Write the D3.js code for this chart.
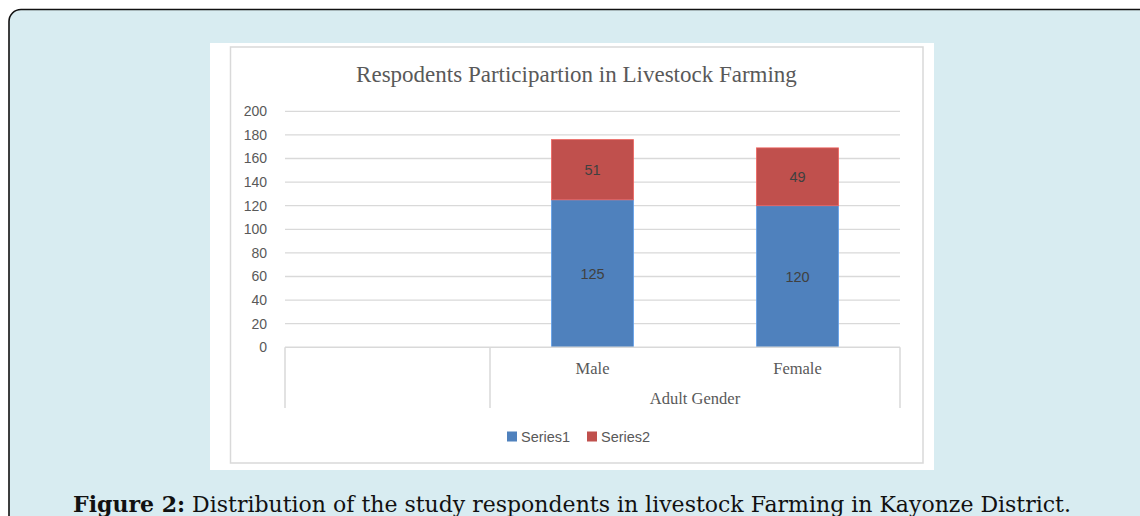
<!DOCTYPE html>
<html>
<head>
<meta charset="utf-8">
<script src="https://cdn.jsdelivr.net/npm/d3@7/dist/d3.min.js"></script>
<style>
  html, body { margin: 0; padding: 0; background: #ffffff; }
  svg { display: block; }
</style>
</head>
<body>
<svg id="fig" width="1140" height="516"></svg>
<script>
// Chart data
const categories = ["", "Male", "Female"];
const categoryGroups = ["", "Adult Gender", "Adult Gender"];
const series1 = [null, 125, 120];
const series2 = [null, 51, 49];
const seriesNames = ["Series1", "Series2"];
const yTicks = [0, 20, 40, 60, 80, 100, 120, 140, 160, 180, 200];
const chartTitle = "Respodents Participartion in Livestock Farming";
const captionBold = "Figure 2:";
const captionText = " Distribution of the study respondents in livestock Farming in Kayonze District.";

const colors = ["#4f81bd", "#c0504d"];
const textGrey = "#595959";
const gridGrey = "#d9d9d9";

const svg = d3.select("#fig");

// Figure panel background with rounded corner
svg.append("rect")
  .attr("x", 9).attr("y", 9.5)
  .attr("width", 1160).attr("height", 540)
  .attr("rx", 12).attr("ry", 12)
  .attr("fill", "#d8ecf1")
  .attr("stroke", "#111").attr("stroke-width", 1.6);

// Chart image area
svg.append("rect")
  .attr("x", 210).attr("y", 43).attr("width", 724).attr("height", 427)
  .attr("fill", "#ffffff");
svg.append("rect")
  .attr("x", 230.5).attr("y", 47).attr("width", 692.5).attr("height", 416)
  .attr("fill", "#ffffff")
  .attr("stroke", gridGrey).attr("stroke-width", 1.5);

// Plot area
const plot = { left: 285, right: 900, top: 111.3, bottom: 347.3 };

const x = d3.scaleBand()
  .domain(categories)
  .range([plot.left, plot.right])
  .paddingInner(0.6)
  .paddingOuter(0.3);

const y = d3.scaleLinear()
  .domain([0, 200])
  .range([plot.bottom, plot.top]);

// Title
svg.append("text")
  .attr("x", 576.5).attr("y", 82)
  .attr("text-anchor", "middle")
  .attr("font-family", "Liberation Serif, serif")
  .attr("font-size", 23)
  .attr("fill", textGrey)
  .text(chartTitle);

// Horizontal gridlines
svg.append("g")
  .selectAll("line")
  .data(yTicks.filter(t => t > 0))
  .join("line")
  .attr("x1", plot.left).attr("x2", plot.right)
  .attr("y1", d => y(d)).attr("y2", d => y(d))
  .attr("stroke", gridGrey).attr("stroke-width", 1.3);

// Y axis labels
const yAxis = d3.axisLeft(y).tickValues(yTicks).tickSize(0).tickPadding(0);
const yG = svg.append("g")
  .attr("transform", `translate(267,0)`)
  .call(yAxis);
yG.select(".domain").remove();
yG.selectAll("text")
  .attr("font-family", "Liberation Sans, Arial, sans-serif")
  .attr("font-size", 14)
  .attr("fill", textGrey);

// Stacked bars
const rows = categories.map((c, i) => ({ cat: c, Series1: series1[i], Series2: series2[i] }));
const stack = d3.stack().keys(seriesNames).value((d, k) => d[k] == null ? 0 : d[k]);
const layers = stack(rows);

const barG = svg.append("g");
layers.forEach((layer, li) => {
  const segs = layer.filter(s => s.data[layer.key] != null);
  barG.selectAll(null)
    .data(segs)
    .join("rect")
    .attr("x", d => x(d.data.cat))
    .attr("width", x.bandwidth())
    .attr("y", d => y(d[1]))
    .attr("height", d => y(d[0]) - y(d[1]))
    .attr("fill", colors[li])
    .attr("stroke", d3.color(colors[li]).brighter(0.6))
    .attr("stroke-width", 0.8);
  barG.selectAll(null)
    .data(segs)
    .join("text")
    .attr("x", d => x(d.data.cat) + x.bandwidth() / 2)
    .attr("y", d => (y(d[0]) + y(d[1])) / 2)
    .attr("dy", "0.35em")
    .attr("text-anchor", "middle")
    .attr("font-family", "Liberation Sans, Arial, sans-serif")
    .attr("font-size", 14.5)
    .attr("fill", "#404040")
    .text(d => d.data[layer.key]);
});

// Multi-level category axis
const axisG = svg.append("g").attr("stroke", gridGrey).attr("stroke-width", 1.5);
const rowBottom = 408;
axisG.append("line")
  .attr("x1", plot.left).attr("x2", plot.right)
  .attr("y1", plot.bottom).attr("y2", plot.bottom);

// Group boundaries
const cellStart = i => plot.left + i * x.step();
const groupEdges = [];
categoryGroups.forEach((g, i) => {
  if (i === 0 || g !== categoryGroups[i - 1]) groupEdges.push(cellStart(i));
});
groupEdges.push(plot.right);
axisG.selectAll(null)
  .data(groupEdges)
  .join("line")
  .attr("x1", d => d).attr("x2", d => d)
  .attr("y1", plot.bottom).attr("y2", rowBottom);

// Category labels
svg.append("g")
  .selectAll("text")
  .data(categories.filter(c => c !== ""))
  .join("text")
  .attr("x", d => x(d) + x.bandwidth() / 2)
  .attr("y", 374)
  .attr("text-anchor", "middle")
  .attr("font-family", "Liberation Serif, serif")
  .attr("font-size", 16.5)
  .attr("fill", textGrey)
  .text(d => d);

// Group labels
const groupNames = Array.from(new Set(categoryGroups)).filter(g => g !== "");
svg.append("g")
  .selectAll("text")
  .data(groupNames)
  .join("text")
  .attr("x", g => {
    const idx = categoryGroups.map((v, i) => v === g ? i : -1).filter(i => i >= 0);
    return (cellStart(idx[0]) + cellStart(idx[idx.length - 1] + 1)) / 2;
  })
  .attr("y", 404)
  .attr("text-anchor", "middle")
  .attr("font-family", "Liberation Serif, serif")
  .attr("font-size", 16.5)
  .attr("fill", textGrey)
  .text(g => g);

// Legend
const legendX = [507, 587];
const legend = svg.append("g");
seriesNames.forEach((name, i) => {
  legend.append("rect")
    .attr("x", legendX[i]).attr("y", 431.5)
    .attr("width", 10).attr("height", 10)
    .attr("fill", colors[i]);
  legend.append("text")
    .attr("x", legendX[i] + 14).attr("y", 441.5)
    .attr("font-family", "Liberation Sans, Arial, sans-serif")
    .attr("font-size", 14.5)
    .attr("fill", textGrey)
    .text(name);
});

// Figure caption
const cap = svg.append("text")
  .attr("x", 572).attr("y", 512)
  .attr("text-anchor", "middle")
  .attr("font-family", "DejaVu Serif, serif")
  .attr("font-size", 22)
  .attr("fill", "#111");
cap.append("tspan").attr("font-weight", "bold").text(captionBold);
cap.append("tspan").text(captionText);
</script>
</body>
</html>
